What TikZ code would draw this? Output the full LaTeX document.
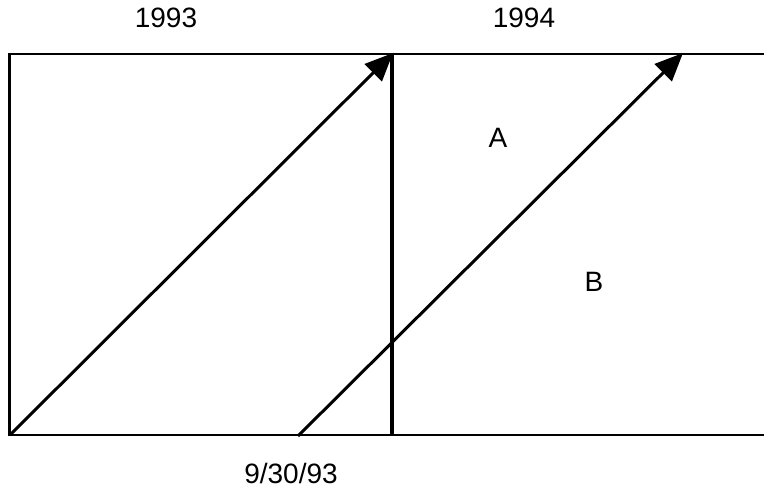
\documentclass[tikz,border=0pt]{standalone}
\usepackage{fontspec}
\setmainfont{Liberation Sans}
\usetikzlibrary{arrows.meta}
\begin{document}
\begin{tikzpicture}[x=1pt,y=-1pt,
  frame/.style={line width=2.6pt},
  divider/.style={line width=4pt},
  flow/.style={line width=3pt,-{Triangle[length=28pt,width=24pt]}},
  lbl/.style={font=\fontsize{28}{30}\selectfont,inner sep=0pt}]
\useasboundingbox (0,0) rectangle (764,489);
\coordinate (tl) at (9.5,54);
\coordinate (tr) at (766,54);
\coordinate (bl) at (9.5,435);
\coordinate (br) at (766,435);
\coordinate (dtop) at (392,52.7);
\coordinate (dbot) at (392,436);
\coordinate (s1) at (10,435);
\coordinate (e1) at (393,53);
\coordinate (s2) at (298,436);
\coordinate (e2) at (683,53);
\draw[frame] (tr) -- (tl) -- (bl) -- (br);
\draw[divider] (dtop) -- (dbot);
\draw[flow] (s1) -- (e1);
\draw[flow] (s2) -- (e2);
\node[lbl] (y93) at (166,18) {1993};
\node[lbl] (y94) at (524,18) {1994};
\node[lbl] (A) at (498,138) {A};
\node[lbl] (B) at (594,282) {B};
\node[lbl] (date) at (291,473) {9/30/93};
\end{tikzpicture}
\end{document}
